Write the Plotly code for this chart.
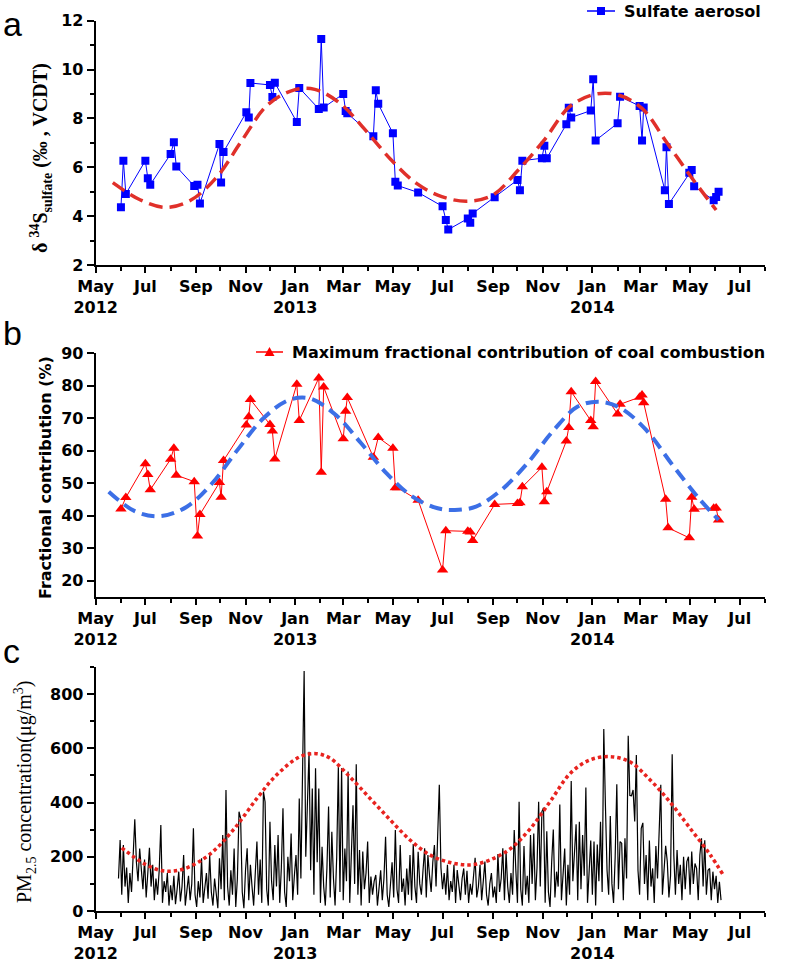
import plotly.graph_objects as go
import pandas as pd

# ---------------- data ----------------
sulfate_dates = ["2012-06-01","2012-06-04","2012-06-07","2012-07-01","2012-07-04","2012-07-07",
    "2012-08-01","2012-08-05","2012-08-08","2012-08-30","2012-09-03","2012-09-06",
    "2012-09-30","2012-10-02","2012-10-05","2012-11-02","2012-11-05","2012-11-07",
    "2012-12-01","2012-12-04","2012-12-07","2013-01-03","2013-01-06","2013-01-30",
    "2013-02-02","2013-02-05","2013-03-01","2013-03-04","2013-03-06","2013-04-07",
    "2013-04-10","2013-04-13","2013-05-01","2013-05-04","2013-05-07","2013-06-01",
    "2013-07-01","2013-07-05","2013-07-08","2013-08-01","2013-08-04","2013-08-07",
    "2013-09-03","2013-10-01","2013-10-04","2013-10-07","2013-10-31","2013-11-03",
    "2013-11-06","2013-11-30","2013-12-03","2013-12-06","2013-12-30","2014-01-02",
    "2014-01-05","2014-02-01","2014-02-04","2014-02-28","2014-03-03","2014-03-05",
    "2014-03-31","2014-04-02","2014-04-05","2014-04-30","2014-05-03","2014-05-06",
    "2014-05-30","2014-06-02","2014-06-05"]
sulfate_vals = [4.36, 6.27, 4.91, 6.27, 5.55, 5.29, 6.54, 7.02, 6.03, 5.23,
    5.29, 4.52, 6.95, 5.38, 6.63, 8.25, 8.04, 9.45, 9.37, 8.88,
    9.46, 7.85, 9.25, 8.39, 11.25, 8.45, 9.00, 8.30, 8.21, 7.27,
    9.15, 8.60, 7.39, 5.41, 5.25, 4.97, 4.40, 3.84, 3.45, 3.90,
    3.73, 4.11, 4.77, 5.48, 5.06, 6.27, 6.37, 6.88, 6.37, 7.76,
    8.44, 8.04, 8.32, 9.60, 7.10, 7.80, 8.89, 8.51, 7.10, 8.45,
    5.06, 6.82, 4.50, 5.78, 5.89, 5.22, 4.65, 4.78, 5.00]

sulfate_fit_dates = ["2012-05-22","2012-06-25","2012-07-26","2012-08-26","2012-09-27","2012-10-28",
    "2012-11-28","2012-12-30","2013-01-25","2013-02-25","2013-03-28","2013-04-29",
    "2013-05-30","2013-06-30","2013-08-01","2013-09-01","2013-10-02","2013-11-03",
    "2013-12-04","2014-01-04","2014-02-02","2014-03-03","2014-04-03","2014-05-05","2014-06-02"]
sulfate_fit_vals = [5.37, 4.66, 4.36, 4.66, 5.61, 7.12, 8.55, 9.16, 9.19, 8.62, 7.53, 6.30,
    5.34, 4.80, 4.61, 4.87, 5.89, 7.12, 8.48, 8.99, 8.96, 8.41, 6.98, 5.48, 4.25]

coal_dates = ["2012-06-01","2012-06-07","2012-07-01","2012-07-04","2012-07-07","2012-08-01",
    "2012-08-05","2012-08-08","2012-08-30","2012-09-03","2012-09-06","2012-09-30",
    "2012-10-02","2012-10-05","2012-11-02","2012-11-05","2012-11-07","2012-12-01",
    "2012-12-04","2012-12-07","2013-01-03","2013-01-06","2013-01-30","2013-02-02",
    "2013-02-05","2013-03-01","2013-03-04","2013-03-06","2013-04-07","2013-04-13",
    "2013-05-01","2013-05-04","2013-05-07","2013-06-01","2013-07-01","2013-07-05",
    "2013-08-01","2013-08-04","2013-08-07","2013-09-03","2013-10-01","2013-10-04",
    "2013-10-07","2013-10-31","2013-11-03","2013-11-06","2013-11-30","2013-12-03",
    "2013-12-06","2013-12-30","2014-01-02","2014-01-05","2014-02-01","2014-02-04",
    "2014-02-28","2014-03-03","2014-03-05","2014-04-01","2014-04-04","2014-04-30",
    "2014-05-03","2014-05-06","2014-05-30","2014-06-02","2014-06-05"]
coal_vals = [42.1, 45.6, 56.0, 52.7, 48.0, 57.4, 60.8, 52.5, 50.5, 33.8,
    40.4, 50.2, 45.7, 57.0, 67.9, 70.5, 75.8, 68.1, 66.1, 57.5,
    80.5, 69.3, 82.4, 53.4, 79.6, 63.7, 72.2, 76.4, 58.0, 64.1,
    60.8, 48.6, 48.6, 44.8, 23.3, 35.4, 35.2, 35.0, 32.4, 43.5,
    43.8, 44.0, 48.9, 54.9, 44.3, 47.4, 63.0, 67.2, 78.2, 69.3,
    67.4, 81.3, 71.3, 74.3, 76.5, 77.2, 74.8, 45.1, 36.3, 33.2,
    45.7, 42.0, 42.3, 42.4, 38.7]

coal_fit_dates = ["2012-05-17","2012-06-19","2012-07-20","2012-08-21","2012-09-21","2012-10-22",
    "2012-11-23","2012-12-24","2013-01-19","2013-02-20","2013-03-23","2013-04-23",
    "2013-05-25","2013-06-25","2013-07-16","2013-08-11","2013-09-11","2013-10-13",
    "2013-11-13","2013-12-14","2014-01-10","2014-02-05","2014-03-08","2014-04-08",
    "2014-05-10","2014-06-05"]
coal_fit_vals = [47.4, 41.3, 39.9, 42.8, 50.0, 60.2, 70.0, 75.6, 76.1, 71.0, 62.3, 53.1,
    45.9, 42.3, 41.8, 42.8, 47.9, 56.1, 65.9, 73.6, 75.1, 73.1, 66.4, 56.1, 45.9, 38.7]

pm25_start = "2012-05-29"
pm25_vals = [
    120, 262, 60, 243, 90, 160, 30, 140, 70, 200,
    338, 180, 110, 230, 150, 80, 190, 50, 140, 233,
    90, 170, 40, 120, 60, 150, 317, 30, 110, 70,
    140, 20, 95, 40, 130, 25, 80, 145, 35, 90,
    206, 20, 75, 130, 40, 100, 305, 60, 15, 110,
    50, 194, 30, 85, 140, 45, 206, 70, 20, 120,
    60, 10, 194, 80, 280, 40, 446, 90, 20, 150,
    60, 230, 15, 120, 366, 342, 70, 10, 150, 231,
    40, 170, 90, 20, 140, 256, 60, 190, 30, 440,
    403, 80, 20, 329, 110, 40, 243, 90, 280, 30,
    160, 379, 70, 15, 200, 110, 286, 40, 130, 206,
    60, 415, 120, 489, 885, 200, 391, 587, 150, 452,
    60, 526, 180, 452, 30, 237, 90, 20, 160, 385,
    50, 292, 120, 20, 200, 532, 70, 526, 40, 230,
    110, 514, 30, 180, 390, 100, 541, 60, 225, 20,
    219, 80, 140, 256, 30, 127, 60, 110, 133, 20,
    90, 150, 40, 120, 274, 60, 15, 100, 180, 50,
    299, 80, 30, 243, 70, 120, 20, 157, 60, 206,
    40, 247, 90, 30, 218, 100, 60, 150, 231, 50,
    206, 130, 70, 180, 243, 90, 274, 465, 160, 80,
    140, 60, 170, 40, 110, 70, 170, 30, 151, 80,
    40, 120, 157, 60, 148, 30, 100, 60, 130, 196,
    50, 90, 170, 40, 110, 182, 60, 20, 100, 140,
    50, 90, 30, 210, 70, 120, 231, 40, 217, 90,
    30, 140, 60, 299, 150, 30, 403, 80, 20, 240,
    60, 130, 30, 280, 100, 286, 40, 160, 403, 90,
    366, 381, 30, 294, 70, 15, 180, 300, 50, 145,
    90, 393, 40, 120, 230, 20, 170, 60, 479, 110,
    200, 320, 40, 329, 80, 280, 130, 455, 30, 150,
    260, 60, 256, 20, 245, 110, 329, 70, 671, 391,
    150, 60, 350, 100, 30, 200, 467, 80, 256, 250,
    40, 268, 120, 646, 426, 425, 446, 330, 575, 150,
    60, 305, 325, 100, 206, 40, 260, 90, 157, 30,
    240, 120, 280, 465, 60, 150, 240, 182, 50, 130,
    578, 206, 60, 225, 100, 170, 40, 200, 80, 182,
    200, 60, 219, 100, 175, 157, 40, 206, 268, 90,
    261, 60, 150, 157, 40, 145, 80, 130, 30, 108,
    40]
pm25_dates = pd.date_range(start=pm25_start, periods=len(pm25_vals), freq="2D")

pm25_fit_dates = ["2012-06-02","2012-07-01","2012-07-25","2012-08-19","2012-09-18","2012-10-17",
    "2012-11-15","2012-12-09","2013-01-07","2013-01-27","2013-02-13","2013-03-09",
    "2013-04-03","2013-04-28","2013-05-22","2013-06-16","2013-07-10","2013-08-04",
    "2013-08-28","2013-09-22","2013-10-16","2013-11-10","2013-12-05","2013-12-29",
    "2014-01-23","2014-02-16","2014-03-13","2014-04-06","2014-05-01","2014-05-26","2014-06-10"]
pm25_fit_vals = [233, 172, 147, 157, 209, 299, 415, 501, 569, 580, 563, 495, 415, 335, 262,
    206, 179, 170, 188, 229, 301, 403, 508, 557, 569, 550, 483, 403, 305, 206, 136]

x_tick_dates = ["2012-05-01","2012-07-01","2012-09-01","2012-11-01","2013-01-01","2013-03-01",
    "2013-05-01","2013-07-01","2013-09-01","2013-11-01","2014-01-01","2014-03-01",
    "2014-05-01","2014-07-01"]
x_tick_text = ["May<br>2012","Jul","Sep","Nov","Jan<br>2013","Mar","May","Jul","Sep","Nov",
    "Jan<br>2014","Mar","May","Jul"]
x_range = ["2012-05-01", "2014-08-01"]

legend_a_text = "Sulfate aerosol"
legend_b_text = "Maximum fractional contribution of coal combustion"

# ---------------- figure ----------------
W, H = 787, 963
def fx(p):
    return p / W
def fy(p):
    return 1 - p / H

tickfont = dict(family="DejaVu Sans", size=16, color="black", weight="bold")
minor_months = list(pd.date_range(x_range[0], x_range[1], freq="MS").strftime("%Y-%m-%d"))

fig = go.Figure()

# panel a
fig.add_trace(go.Scatter(x=sulfate_dates, y=sulfate_vals, mode="lines+markers",
    name=legend_a_text, line=dict(color="#0000FF", width=1),
    marker=dict(symbol="square", size=8, color="#0000FF"),
    xaxis="x", yaxis="y", showlegend=False))
fig.add_trace(go.Scatter(x=sulfate_fit_dates, y=sulfate_fit_vals, mode="lines",
    line=dict(color="#E0302A", width=3.5, dash="14px,7px", shape="spline"),
    showlegend=False, xaxis="x", yaxis="y"))

# panel b
fig.add_trace(go.Scatter(x=coal_dates, y=coal_vals, mode="lines+markers",
    name=legend_b_text, line=dict(color="#FF0000", width=1),
    marker=dict(symbol="triangle-up", size=10, color="#FF0000"),
    xaxis="x2", yaxis="y2", showlegend=False))
fig.add_trace(go.Scatter(x=coal_fit_dates, y=coal_fit_vals, mode="lines",
    line=dict(color="#3C6FE6", width=4, dash="13px,7px", shape="spline"),
    showlegend=False, xaxis="x2", yaxis="y2"))

# panel c
fig.add_trace(go.Scatter(x=pm25_dates, y=pm25_vals, mode="lines",
    line=dict(color="black", width=1.2), showlegend=False, xaxis="x3", yaxis="y3"))
fig.add_trace(go.Scatter(x=pm25_fit_dates, y=pm25_fit_vals, mode="lines",
    line=dict(color="#E8231F", width=3.5, dash="3.5px,3px", shape="spline"),
    showlegend=False, xaxis="x3", yaxis="y3"))

def xaxis_common(anchor):
    return dict(type="date", range=x_range, domain=[fx(95.7), fx(765)], anchor=anchor,
        automargin=False,
        showline=True, linewidth=2, linecolor="black", mirror=False,
        ticks="outside", ticklen=6, tickwidth=2, tickcolor="black",
        tickmode="array", tickvals=x_tick_dates, ticktext=x_tick_text, tickangle=0,
        tickfont=tickfont, showgrid=False, zeroline=False,
        minor=dict(tickmode="array", tickvals=minor_months, ticks="outside",
                   ticklen=4, tickwidth=2, tickcolor="black", showgrid=False))

def yaxis_common(anchor, dom, rng, vals, minor_vals):
    d = dict(domain=dom, range=rng, anchor=anchor, automargin=False, showline=True, linewidth=2,
        linecolor="black", ticks="outside", ticklen=7, tickwidth=2, tickcolor="black",
        tickmode="array", tickvals=vals, tickfont=tickfont, showgrid=False, zeroline=False)
    if minor_vals:
        d["minor"] = dict(tickmode="array", tickvals=minor_vals, ticks="outside",
                          ticklen=4, tickwidth=2, tickcolor="black", showgrid=False)
    return d

legend_font = dict(family="DejaVu Sans", size=16, color="black", weight="bold")

# legend keys drawn as shapes (paper coordinates)
def tri_path(cx, cy, s):
    h = s * 0.9
    return "M {:.5f},{:.5f} L {:.5f},{:.5f} L {:.5f},{:.5f} Z".format(
        fx(cx - s / 2), fy(cy + h / 2), fx(cx + s / 2), fy(cy + h / 2), fx(cx), fy(cy - h / 2))

shapes = [
    dict(type="line", xref="paper", yref="paper", x0=fx(587), x1=fx(615), y0=fy(11), y1=fy(11),
         line=dict(color="#0000FF", width=1.5)),
    dict(type="rect", xref="paper", yref="paper", x0=fx(597), x1=fx(605), y0=fy(15), y1=fy(7),
         fillcolor="#0000FF", line=dict(width=0)),
    dict(type="line", xref="paper", yref="paper", x0=fx(256), x1=fx(283), y0=fy(352), y1=fy(352),
         line=dict(color="#FF0000", width=1.5)),
    dict(type="path", xref="paper", yref="paper", path=tri_path(269.5, 351.5, 10),
         fillcolor="#FF0000", line=dict(width=0)),
]

fig.update_layout(
    width=W, height=H, margin=dict(l=0, r=0, t=0, b=0, autoexpand=False),
    plot_bgcolor="white", paper_bgcolor="white", showlegend=False,
    xaxis=xaxis_common("y"), xaxis2=xaxis_common("y2"), xaxis3=xaxis_common("y3"),
    yaxis=yaxis_common("x", [fy(265), fy(20.7)], [2, 12], [2, 4, 6, 8, 10, 12], [3, 5, 7, 9, 11]),
    yaxis2=yaxis_common("x2", [fy(597), fy(353.3)], [15, 90], [20, 30, 40, 50, 60, 70, 80, 90], None),
    yaxis3=yaxis_common("x3", [fy(911), fy(666.9)], [0, 900], [0, 200, 400, 600, 800], [100, 300, 500, 700, 900]),
    shapes=shapes,
    annotations=[
        dict(text=legend_a_text, x=fx(622), y=fy(11), xref="paper", yref="paper",
             xanchor="left", yanchor="middle", showarrow=False, font=legend_font),
        dict(text=legend_b_text, x=fx(290), y=fy(352), xref="paper", yref="paper",
             xanchor="left", yanchor="middle", showarrow=False, font=legend_font),
        dict(text="a", x=fx(1), y=fy(24), xref="paper", yref="paper", xanchor="left",
             yanchor="middle", showarrow=False,
             font=dict(family="Liberation Sans", size=34, color="black")),
        dict(text="b", x=fx(1), y=fy(333), xref="paper", yref="paper", xanchor="left",
             yanchor="middle", showarrow=False,
             font=dict(family="Liberation Sans", size=34, color="black")),
        dict(text="c", x=fx(1), y=fy(651), xref="paper", yref="paper", xanchor="left",
             yanchor="middle", showarrow=False,
             font=dict(family="Liberation Sans", size=34, color="black")),
        dict(text="δ <sup>34</sup>S<sub>sulfate</sub> (‰ , VCDT)", x=fx(41), y=fy(158),
             xref="paper", yref="paper", xanchor="center", yanchor="middle",
             textangle=-90, showarrow=False,
             font=dict(family="Liberation Serif", size=20, color="black", weight="bold")),
        dict(text="Fractional contribution (%)", x=fx(45), y=fy(478),
             xref="paper", yref="paper", xanchor="center", yanchor="middle",
             textangle=-90, showarrow=False,
             font=dict(family="DejaVu Sans", size=16, color="black", weight="bold")),
        dict(text="PM<sub>2.5</sub> concentration(μg/m<sup>3</sup>)", x=fx(25), y=fy(792),
             xref="paper", yref="paper", xanchor="center", yanchor="middle",
             textangle=-90, showarrow=False,
             font=dict(family="Liberation Serif", size=20, color="black")),
    ],
)

# remove the default page margin so the figure sits at the window's top-left corner
fig.write_html("out.html", config={"displayModeBar": False},
               post_script="document.body.style.margin='0px';")
